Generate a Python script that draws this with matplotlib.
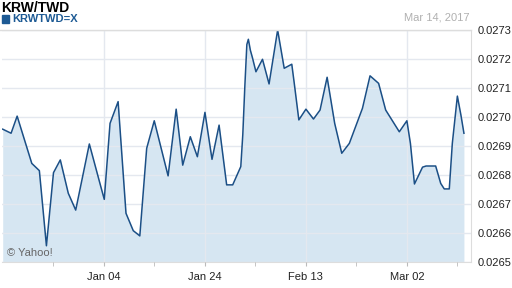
import matplotlib
matplotlib.use("Agg")
import matplotlib.pyplot as plt
from matplotlib.ticker import FixedLocator, FuncFormatter

# ---- data (day offset relative to Jan 04, rate) ----
day = [-20.06, -18.4, -17.2, -14.3, -12.8, -11.4, -10.0, -8.65, -7.07, -5.6,
       -2.9, -0.8, 0.06, 1.2, 2.8, 4.36, 5.8, 7.1, 8.46, 9.96,
       12.7, 14.3, 15.6, 17.1, 18.5, 20.0, 21.4, 22.8, 24.3, 25.5,
       27.1, 27.5, 27.9, 28.3, 28.6, 29.0, 29.4, 30.1, 31.4, 32.7,
       34.4, 35.7, 37.2, 37.7, 38.6, 40.0, 41.5, 42.8, 44.2, 45.7,
       47.1, 48.6, 51.2, 52.7, 54.4, 55.8, 58.5, 60.0, 60.7, 61.5,
       63.1, 63.8, 65.7, 66.7, 67.4, 68.4, 69.0, 70.0, 70.7, 71.3]
rate = [0.026958, 0.026944, 0.027003, 0.026840, 0.026815, 0.026556, 0.026808, 0.026852, 0.026737, 0.026679,
        0.026907, 0.026771, 0.026716, 0.026978, 0.027053, 0.026668, 0.026608, 0.026590, 0.026892, 0.026987,
        0.026797, 0.027027, 0.026834, 0.026932, 0.026863, 0.027016, 0.026854, 0.026972, 0.026766, 0.026766,
        0.026829, 0.026940, 0.027105, 0.027250, 0.027268, 0.027230, 0.027205, 0.027156, 0.027199, 0.027114,
        0.027300, 0.027168, 0.027182, 0.027115, 0.026990, 0.027027, 0.026993, 0.027024, 0.027137, 0.026978,
        0.026875, 0.026909, 0.027030, 0.027142, 0.027116, 0.027024, 0.026949, 0.026987, 0.026909, 0.026769,
        0.026827, 0.026831, 0.026831, 0.026771, 0.026752, 0.026752, 0.026909, 0.027072, 0.027007, 0.026944]

major_pos = [0, 20, 40, 60]
major_labels = ["Jan 04", "Jan 24", "Feb 13", "Mar 02"]
minor_pos = [-10, 10, 30, 50, 70]
y_ticks = [0.0265, 0.0266, 0.0267, 0.0268, 0.0269, 0.0270, 0.0271, 0.0272, 0.0273]

title = "KRW/TWD"
series_name = "KRWTWD=X"
date_text = "Mar 14, 2017"

plt.rcParams['font.family'] = ['Liberation Sans', 'DejaVu Sans']

W, H = 512, 288
fig = plt.figure(figsize=(W / 100, H / 100), dpi=100)
ax = fig.add_axes([2 / W, 1 - 262 / H, 469 / W, 232 / H])

line_c = "#1b4f86"
fill_c = "#d6e6f2"
grid_c = "#e4e8ef"

ax.fill_between(day, rate, 0.0265, color=fill_c, linewidth=0, zorder=1)
ax.plot(day, rate, color=line_c, linewidth=1.1, zorder=3)

ax.set_xlim(-20.2, 72.7)
ax.set_ylim(0.0265, 0.0273)

ax.yaxis.tick_right()
ax.set_yticks(y_ticks)
ax.yaxis.set_major_formatter(FuncFormatter(lambda v, p: f"{v:.4f}"))
ax.tick_params(axis='y', length=0, pad=5, labelsize=8, labelcolor="#222222")

ax.xaxis.set_major_locator(FixedLocator(major_pos))
ax.set_xticklabels(major_labels)
ax.xaxis.set_minor_locator(FixedLocator(minor_pos))
ax.tick_params(axis='x', which='both', length=3, color="#bbbbbb", labelsize=8,
               labelcolor="#222222", pad=4)

ax.grid(True, axis='y', color=grid_c, linewidth=1.0, zorder=0)
ax.grid(True, axis='x', which='major', color=grid_c, linewidth=1.0, zorder=0)
ax.set_axisbelow(False)
for gl in ax.get_xgridlines() + ax.get_ygridlines():
    gl.set_zorder(2)

for s in ['left', 'top']:
    ax.spines[s].set_visible(False)
ax.spines['right'].set_color("#dddddd")
ax.spines['bottom'].set_color("#dddddd")

# header
fig.text(1 / W, 1 - 8 / H, title, fontsize=10, fontweight='bold', color="#000000",
         ha='left', va='center')
fig.patches.append(matplotlib.patches.Rectangle((2 / W, 1 - 23 / H), 7 / W, 8 / H,
                   transform=fig.transFigure, color="#1d5a94"))
fig.text(12 / W, 1 - 19 / H, series_name, fontsize=8, fontweight='bold', color="#1d5a94",
         ha='left', va='center')
fig.text(470 / W, 1 - 18 / H, date_text, fontsize=8, color="#b0b0b0", ha='right', va='center')
fig.add_artist(matplotlib.lines.Line2D([0, 471 / W], [1 - 29.5 / H, 1 - 29.5 / H],
               transform=fig.transFigure, color="#dddddd", linewidth=1))

ax.text(0.01, 0.038, "© Yahoo!", transform=ax.transAxes, fontsize=8, color="#666666",
        ha='left', va='center', zorder=5)

fig.savefig("out.png", dpi=100)
